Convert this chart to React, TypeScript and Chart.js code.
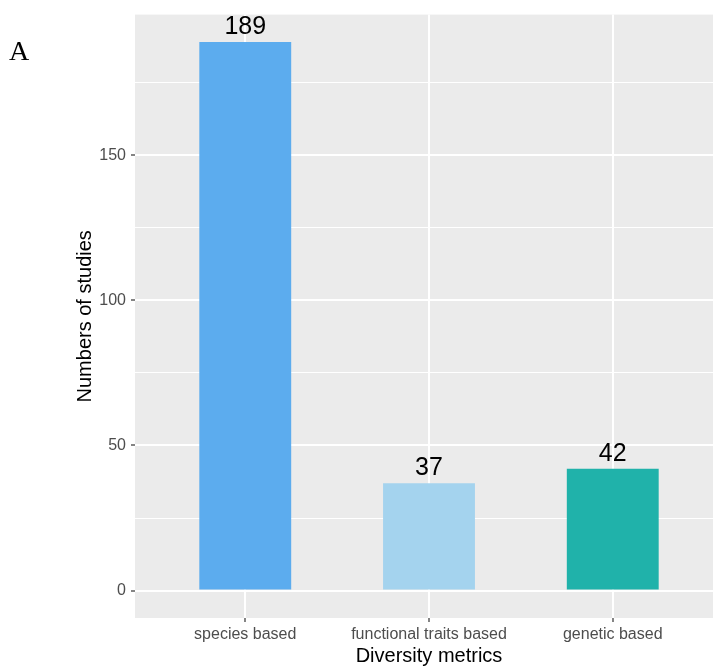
import React, { useEffect, useRef } from "react";
import { Chart, registerables } from "chart.js";

Chart.register(...registerables);

const categories = ["species based", "functional traits based", "genetic based"];
const studyCounts = [189, 37, 42];
const barColors = ["#5CACEE", "#A4D3EE", "#20B2AA"];
const yMajorStep = 50;
const yMinorStep = 25;
const yMin = -9.45;
const yMax = 198.45;
const xMin = 0.4;
const xMax = 3.6;

const FONT = '"Liberation Sans", Arial, Helvetica, sans-serif';

export default function App() {
  const ref = useRef<HTMLCanvasElement | null>(null);

  useEffect(() => {
    const canvas = ref.current;
    if (!canvas) return;

    const panelBg = {
      id: "panelBg",
      beforeDraw(chart: any) {
        const { ctx, chartArea } = chart;
        ctx.save();
        ctx.fillStyle = "#EBEBEB";
        ctx.fillRect(chartArea.left, chartArea.top, chartArea.right - chartArea.left, chartArea.bottom - chartArea.top);
        ctx.restore();
      },
    };

    const valueLabels = {
      id: "valueLabels",
      afterDatasetsDraw(chart: any) {
        const { ctx } = chart;
        const meta = chart.getDatasetMeta(0);
        ctx.save();
        ctx.fillStyle = "#000000";
        ctx.font = `25px ${FONT}`;
        ctx.textAlign = "center";
        ctx.textBaseline = "alphabetic";
        meta.data.forEach((bar: any, i: number) => {
          ctx.fillText(String(studyCounts[i]), bar.x, bar.y - 8);
        });
        ctx.restore();
      },
    };

    const panelLetter = {
      id: "panelLetter",
      afterDraw(chart: any) {
        const { ctx } = chart;
        ctx.save();
        ctx.fillStyle = "#000000";
        ctx.font = '28px "Liberation Serif", "Times New Roman", serif';
        ctx.textAlign = "left";
        ctx.textBaseline = "alphabetic";
        ctx.fillText("A", 9, 60);
        ctx.restore();
      },
    };

    const chart = new Chart(canvas, {
      type: "bar",
      data: {
        datasets: [
          {
            data: categories.map((c, i) => ({ x: i + 1, y: studyCounts[i] })),
            backgroundColor: barColors,
            borderWidth: 0,
            categoryPercentage: 1,
            barPercentage: 0.5,
          },
        ],
      },
      options: {
        responsive: false,
        animation: false,
        devicePixelRatio: 1,
        events: [],
        layout: { padding: { top: 13, right: 17, left: 0, bottom: 0 } },
        plugins: {
          legend: { display: false },
          tooltip: { enabled: false },
        },
        scales: {
          x: {
            type: "linear",
            position: "bottom",
            offset: false,
            min: xMin,
            max: xMax,
            afterFit: (s: any) => {
              s.height = 48;
            },
            border: { display: false },
            grid: {
              offset: false,
              color: "#FFFFFF",
              lineWidth: 2,
              tickLength: 4,
              tickColor: "#333333",
              tickWidth: 1.2,
            },
            ticks: {
              stepSize: 1,
              includeBounds: false,
              autoSkip: false,
              maxRotation: 0,
              minRotation: 0,
              color: "#4D4D4D",
              font: { family: FONT, size: 16 },
              padding: 3,
              callback: (v: any) => (Number.isInteger(v) && categories[v - 1] ? categories[v - 1] : ""),
            },
            title: {
              display: true,
              text: "Diversity metrics",
              color: "#000000",
              font: { family: FONT, size: 20, lineHeight: 1 },
              padding: 0,
            },
          },
          y: {
            type: "linear",
            min: yMin,
            max: yMax,
            afterFit: (s: any) => {
              s.width = 135;
            },
            border: { display: false },
            grid: {
              color: "#FFFFFF",
              lineWidth: (ctx: any) => (ctx.tick && ctx.tick.value % yMajorStep === 0 ? 2 : 1),
              tickLength: 4,
              tickColor: (ctx: any) =>
                ctx.tick && ctx.tick.value % yMajorStep === 0 ? "#333333" : "rgba(0,0,0,0)",
              tickWidth: 1.2,
            },
            ticks: {
              stepSize: yMinorStep,
              includeBounds: false,
              autoSkip: false,
              color: "#4D4D4D",
              font: { family: FONT, size: 16 },
              padding: 5,
              callback: (v: any) => (v % yMajorStep === 0 ? String(v) : ""),
            },
            title: {
              display: true,
              text: "Numbers of studies",
              color: "#000000",
              font: { family: FONT, size: 20, lineHeight: 1 },
              padding: { top: 75, bottom: 0 },
            },
          },
        },
      },
      plugins: [panelBg, valueLabels, panelLetter],
    } as any);

    return () => chart.destroy();
  }, []);

  return (
    <div
      style={{
        position: "fixed",
        left: 0,
        top: 0,
        width: 713,
        height: 666,
        overflow: "hidden",
        background: "#FFFFFF",
      }}
    >
      <canvas ref={ref} width={740} height={666} style={{ display: "block" }} />
    </div>
  );
}
